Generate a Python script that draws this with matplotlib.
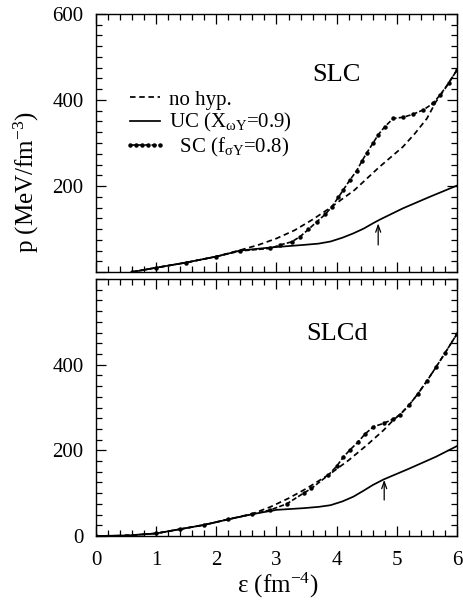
import matplotlib
matplotlib.use("Agg")
import matplotlib.pyplot as plt
from matplotlib.ticker import MultipleLocator

plt.rcParams['font.family'] = ['Liberation Serif', 'DejaVu Serif']
plt.rcParams['mathtext.fontset'] = 'stix'

# ---------------- data ----------------
# SLC panel (top)
slc_x_nohyp = [0.6, 1.0, 1.5, 2.0, 2.4, 2.7, 3.0, 3.3, 3.6, 3.9, 4.3, 4.7, 5.1, 5.3, 5.5, 5.65, 5.8, 6.0]
slc_p_nohyp = [0, 10, 22, 36, 51, 63, 78, 97, 122, 150, 191, 243, 291, 322, 357, 396, 426, 470]

slc_x_uc = [0.6, 1.0, 1.5, 2.0, 2.4, 2.9, 3.45, 3.7, 3.9, 4.1, 4.28, 4.45, 4.6, 4.72, 5.1, 5.55, 6.0]
slc_p_uc = [0, 10, 22, 36, 50, 57, 63, 66, 71, 80, 90, 101, 113, 122, 148, 175, 201]

slc_x_sc = [0.6, 1.0, 1.5, 2.0, 2.4, 2.9, 3.06, 3.25, 3.39, 3.53, 3.67, 3.81, 3.92, 4.03, 4.11,
            4.22, 4.33, 4.42, 4.5, 4.61, 4.69, 4.8, 4.94, 5.11, 5.27, 5.44, 5.6, 5.72, 5.86, 6.0]
slc_p_sc = [0, 10, 22, 36, 49, 55, 63, 70, 82, 99, 117, 134, 152, 174, 191,
            214, 235, 258, 277, 301, 319, 338, 357, 360, 367, 377, 392, 412, 439, 470]

# SLCd panel (bottom)
slcd_x_nohyp = [0, 0.5, 1.0, 1.4, 1.8, 2.2, 2.6, 2.9, 3.2, 3.5, 3.9, 4.2, 4.5, 4.78, 4.95,
                5.05, 5.2, 5.35, 5.5, 5.65, 5.8, 6.0]
slcd_p_nohyp = [0, 1, 6, 16, 26, 39, 52, 68, 88, 111, 146, 177, 212, 247, 272,
                283, 305, 332, 362, 394, 427, 472]

slcd_x_uc = [0, 0.5, 1.0, 1.4, 1.8, 2.2, 2.6, 3.0, 3.45, 3.7, 3.9, 4.1, 4.28, 4.45, 4.6, 4.78,
             5.2, 5.65, 6.0]
slcd_p_uc = [0, 1, 6, 16, 26, 39, 51, 61, 65, 68, 72, 81, 92, 106, 119, 132, 157, 185, 210]

slcd_x_sc = [0, 0.5, 1.0, 1.4, 1.8, 2.2, 2.6, 2.9, 3.17, 3.45, 3.58, 3.86, 4.0, 4.11, 4.22,
             4.36, 4.47, 4.61, 4.78, 4.94, 5.05, 5.2, 5.35, 5.5, 5.65, 5.8, 6.0]
slcd_p_sc = [0, 1, 6, 16, 26, 39, 51, 61, 75, 100, 111, 142, 163, 184, 201,
             220, 238, 255, 263, 273, 283, 305, 332, 362, 394, 427, 472]

# arrows marking the kink of the UC curves: x, start p, end p
slc_arrow = (4.69, 63, 113)
slcd_arrow = (4.79, 84, 131)

panel_names = ['SLC', 'SLCd']
legend_labels = ['no hyp.', r'UC (X$\mathregular{_{ωY}}$=0.9)', r'  SC (f$\mathregular{_{σY}}$=0.8)']
xticks = [0, 1, 2, 3, 4, 5, 6]
xticklabels = ['0', '1', '2', '3', '4', '5', '6']
yticks = [0, 200, 400, 600]
top_yticklabels = ['', '200', '400', '600']
bot_yticklabels = ['0', '200', '400', '']

# ---------------- figure ----------------
fig = plt.figure(figsize=(4.64, 6.01), dpi=100)
W, H = 464.0, 601.0
left, right = 96, 457
ax1 = fig.add_axes([left / W, 1 - 272 / H, (right - left) / W, (272 - 14) / H])
ax2 = fig.add_axes([left / W, 1 - 536 / H, (right - left) / W, (536 - 279) / H])

lw = 1.25
dash_style = (0, (3.2, 2.1))
sc_style = dict(color='black', lw=1.2, linestyle=(0, (3.0, 1.3)), marker='o',
                markersize=2.2, markevery=0.011)

def draw(ax, xn, pn, xu, pu, xs, ps, arrow, name, name_y):
    l1, = ax.plot(xn, pn, color='black', lw=lw, linestyle=dash_style)
    l2, = ax.plot(xu, pu, color='black', lw=lw, linestyle='-')
    l3, = ax.plot(xs, ps, **sc_style)
    ax.annotate('', xy=(arrow[0], arrow[2]), xytext=(arrow[0], arrow[1]),
                arrowprops=dict(arrowstyle='->,head_length=0.5,head_width=0.18',
                                color='black', lw=0.9, shrinkA=0, shrinkB=0))
    ax.text(4.0, name_y, name, ha='center', va='center', fontsize=19)
    ax.set_xlim(0, 6)
    ax.set_ylim(0, 600)
    ax.xaxis.set_minor_locator(MultipleLocator(0.2))
    ax.yaxis.set_minor_locator(MultipleLocator(25))
    ax.tick_params(which='both', direction='in', top=True, right=True, width=0.9)
    ax.tick_params(which='major', length=7.5, labelsize=15, pad=9)
    ax.tick_params(which='minor', length=4.3)
    ax.tick_params(axis='x', which='major', pad=11)
    ax.set_xticks(xticks)
    for s in ax.spines.values():
        s.set_linewidth(1.0)
    return l1, l2, l3

h = draw(ax1, slc_x_nohyp, slc_p_nohyp, slc_x_uc, slc_p_uc, slc_x_sc, slc_p_sc,
         slc_arrow, panel_names[0], 458)
draw(ax2, slcd_x_nohyp, slcd_p_nohyp, slcd_x_uc, slcd_p_uc, slcd_x_sc, slcd_p_sc,
     slcd_arrow, panel_names[1], 471)

ax1.set_xticklabels([])
ax1.set_yticks(yticks)
ax1.set_yticklabels(top_yticklabels)
ax2.set_xticklabels(xticklabels)
ax2.set_yticks(yticks)
ax2.set_yticklabels(bot_yticklabels)

ax1.legend(h, legend_labels, loc='upper left', bbox_to_anchor=(0.078, 0.705),
           frameon=False, fontsize=15, handlelength=2.0, handletextpad=0.15,
           labelspacing=0.08, borderpad=0, borderaxespad=0, numpoints=6)

fig.text(278 / W, 1 - 585 / H, r'ε (fm$\mathregular{^{-4}}$)', ha='center', va='center', fontsize=18)
fig.text(26 / W, 1 - 182 / H, r'p (MeV/fm$\mathregular{^{-3}}$)', ha='center', va='center',
         rotation=90, fontsize=18)

fig.savefig('out.png', dpi=100)
